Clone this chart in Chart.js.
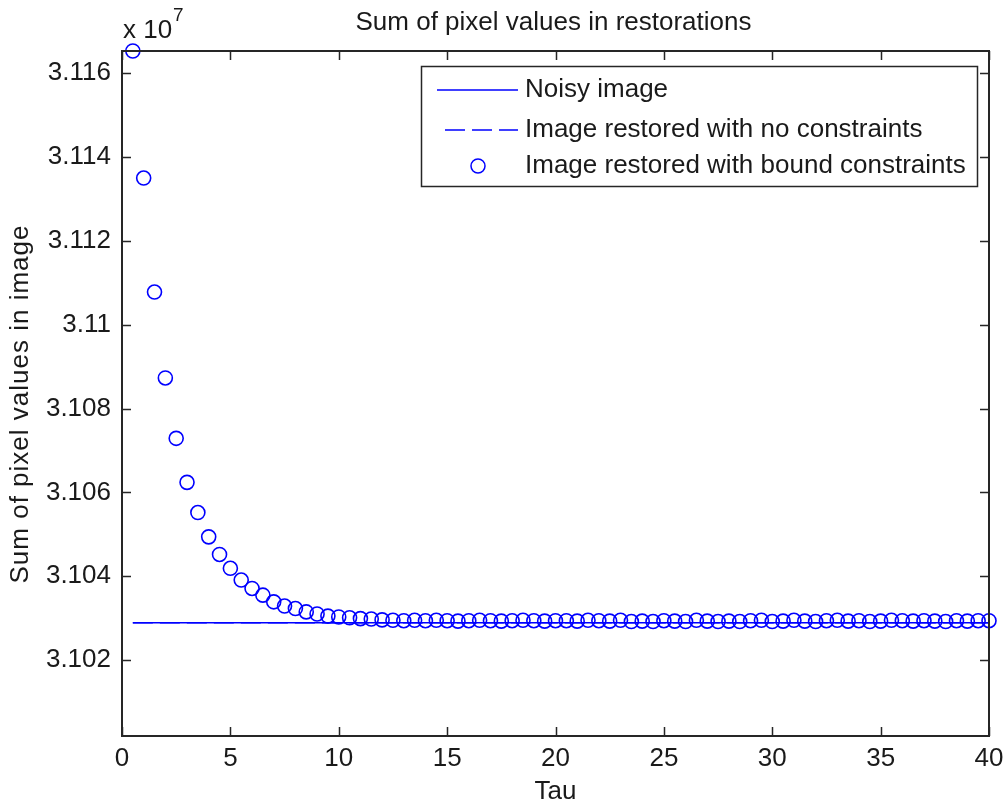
<!DOCTYPE html>
<html><head><meta charset="utf-8">
<script src="https://cdn.jsdelivr.net/npm/chart.js@4.4.0/dist/chart.umd.min.js"></script>
<style>html,body{margin:0;padding:0;background:#fff;overflow:hidden}#wrap{width:1004px;height:804px;position:relative}</style>
</head><body><div id="wrap"><canvas id="c" width="1004" height="804"></canvas></div>
<script>
// ---- data (sums in units of 1e7) ----
const tau = [0.5,1,1.5,2,2.5,3,3.5,4,4.5,5,5.5,6,6.5,7,7.5,8,8.5,9,9.5,10,
  10.5,11,11.5,12,12.5,13,13.5,14,14.5,15,15.5,16,16.5,17,17.5,18,18.5,19,19.5,20,
  20.5,21,21.5,22,22.5,23,23.5,24,24.5,25,25.5,26,26.5,27,27.5,28,28.5,29,29.5,30,
  30.5,31,31.5,32,32.5,33,33.5,34,34.5,35,35.5,36,36.5,37,37.5,38,38.5,39,39.5,40];
const boundSum = [3.11653,3.11350,3.11078,3.10873,3.10729,3.10624,3.10552,3.10494,3.10452,3.10419,
  3.10391,3.10371,3.10355,3.10339,3.10329,3.10323,3.10315,3.10310,3.10305,3.10303,
  3.10301,3.10299,3.10298,3.10296,3.10295,3.10294,3.10295,3.10294,3.10295,3.10294,
  3.10293,3.10294,3.10295,3.10294,3.10293,3.10294,3.10295,3.10294,3.10293,3.10294,
  3.10294,3.10293,3.10295,3.10294,3.10293,3.10295,3.10292,3.10293,3.10292,3.10294,
  3.10293,3.10292,3.10295,3.10293,3.10292,3.10293,3.10292,3.10294,3.10295,3.10292,
  3.10293,3.10295,3.10293,3.10292,3.10294,3.10295,3.10293,3.10294,3.10292,3.10293,
  3.10295,3.10294,3.10293,3.10294,3.10293,3.10292,3.10294,3.10293,3.10294,3.10294];
const noisyTau = [0.5, 40];
const noisySum = [3.10289, 3.10289];
const unconstrainedTau = [0.5, 40];
const unconstrainedSum = [3.10289, 3.10289];
const xTicks = [0,5,10,15,20,25,30,35,40];
const xTickLabels = ['0','5','10','15','20','25','30','35','40'];
const yTicks = [3.102,3.104,3.106,3.108,3.110,3.112,3.114,3.116];
const yTickLabels = ['3.102','3.104','3.106','3.108','3.11','3.112','3.114','3.116'];
const xRange = [0, 40];
const yRange = [3.10019, 3.11653];
const titleText = 'Sum of pixel values in restorations';
const xLabel = 'Tau';
const yLabel = 'Sum of pixel values in image';
const seriesNames = ['Noisy image','Image restored with no constraints','Image restored with bound constraints'];

const FONT = "'Liberation Sans', Arial, sans-serif";
const TXT = '#1a1a1a';
const BLUE = '#0000ff';
const toXY = (xs, ys) => xs.map((x, i) => ({x: x, y: ys[i]}));

const framePlugin = {
  id: 'frame',
  afterDraw(chart) {
    const ctx = chart.ctx, a = chart.chartArea;
    const xs = chart.scales.x, ys = chart.scales.y;
    ctx.save();
    ctx.strokeStyle = '#262626';
    ctx.lineWidth = 2;
    ctx.strokeRect(a.left, a.top, a.right - a.left, a.bottom - a.top);
    const tl = 9;
    ctx.beginPath();
    xTicks.forEach(v => {
      const px = Math.round(xs.getPixelForValue(v)) + 0.5;
      ctx.moveTo(px, a.bottom); ctx.lineTo(px, a.bottom - tl);
      ctx.moveTo(px, a.top); ctx.lineTo(px, a.top + tl);
    });
    yTicks.forEach(v => {
      const py = Math.round(ys.getPixelForValue(v)) + 0.5;
      ctx.moveTo(a.left, py); ctx.lineTo(a.left + tl, py);
      ctx.moveTo(a.right, py); ctx.lineTo(a.right - tl, py);
    });
    ctx.lineWidth = 1.5;
    ctx.stroke();

    // texts
    ctx.fillStyle = TXT;
    ctx.font = '26px ' + FONT;
    ctx.textAlign = 'center';
    ctx.textBaseline = 'alphabetic';
    ctx.fillText(titleText, (a.left + a.right) / 2 - 2, 30);
    ctx.fillText(xLabel, (a.left + a.right) / 2, 799);
    ctx.save();
    ctx.translate(28, 404);
    ctx.rotate(-Math.PI / 2);
    ctx.letterSpacing = '1px';
    ctx.fillText(yLabel, 0, 0);
    ctx.restore();
    // exponent
    ctx.textAlign = 'left';
    ctx.font = '26px ' + FONT;
    ctx.fillText('x 10', 123, 38);
    ctx.font = '19px ' + FONT;
    ctx.fillText('7', 173, 21);

    // legend
    const lx = 421, ly = 66, lw = 556, lh = 120;
    ctx.fillStyle = '#fff';
    ctx.fillRect(lx, ly, lw, lh);
    ctx.strokeStyle = '#262626';
    ctx.lineWidth = 1.5;
    ctx.strokeRect(lx + 0.5, ly + 0.5, lw, lh);
    const rows = [90, 130, 166];
    ctx.strokeStyle = BLUE;
    ctx.lineWidth = 1.5;
    ctx.beginPath(); ctx.moveTo(437, rows[0]); ctx.lineTo(518, rows[0]); ctx.stroke();
    ctx.setLineDash([20, 7]);
    ctx.beginPath(); ctx.moveTo(445, rows[1]); ctx.lineTo(518, rows[1]); ctx.stroke();
    ctx.setLineDash([]);
    ctx.beginPath(); ctx.arc(478, rows[2], 7, 0, Math.PI * 2); ctx.stroke();
    ctx.fillStyle = TXT;
    ctx.font = '26px ' + FONT;
    ctx.textBaseline = 'middle';
    seriesNames.forEach((n, i) => ctx.fillText(n, 525, rows[i]));
    ctx.restore();
  }
};

new Chart(document.getElementById('c'), {
  type: 'scatter',
  data: {
    datasets: [
      {label: seriesNames[1], data: toXY(unconstrainedTau, unconstrainedSum), showLine: true,
       borderColor: BLUE, borderWidth: 1.5, borderDash: [20, 7], pointRadius: 0, fill: false, order: 3},
      {label: seriesNames[0], data: toXY(noisyTau, noisySum), showLine: true,
       borderColor: BLUE, borderWidth: 1.5, pointRadius: 0, fill: false, order: 2},
      {label: seriesNames[2], data: toXY(tau, boundSum), showLine: false,
       borderColor: BLUE, backgroundColor: 'rgba(0,0,0,0)', pointRadius: 7, pointBorderWidth: 1.6,
       pointStyle: 'circle', clip: false, order: 1}
    ]
  },
  options: {
    responsive: false,
    animation: false,
    devicePixelRatio: 1,
    layout: {padding: {left: 0, top: 51, right: 15, bottom: 0}},
    plugins: {legend: {display: false}, tooltip: {enabled: false}, title: {display: false}},
    scales: {
      x: {
        type: 'linear', min: xRange[0], max: xRange[1],
        afterBuildTicks: s => { s.ticks = xTicks.map(v => ({value: v})); },
        afterFit: s => { s.height = 68; s.paddingLeft = 0; s.paddingRight = 0; },
        grid: {display: false, drawTicks: false},
        border: {display: false},
        ticks: {font: {family: FONT, size: 26, lineHeight: 1.2}, color: TXT, padding: 7,
                maxRotation: 0, autoSkip: false,
                callback: (v, i) => xTickLabels[i]}
      },
      y: {
        type: 'linear', min: yRange[0], max: yRange[1],
        afterBuildTicks: s => { s.ticks = yTicks.map(v => ({value: v})); },
        afterFit: s => { s.width = 122; s.paddingTop = 0; s.paddingBottom = 0; },
        grid: {display: false, drawTicks: false},
        border: {display: false},
        ticks: {font: {family: FONT, size: 26, lineHeight: 1.2}, color: TXT, padding: 11,
                autoSkip: false,
                callback: (v, i) => yTickLabels[i]}
      }
    }
  },
  plugins: [framePlugin]
});
</script>
</body></html>
